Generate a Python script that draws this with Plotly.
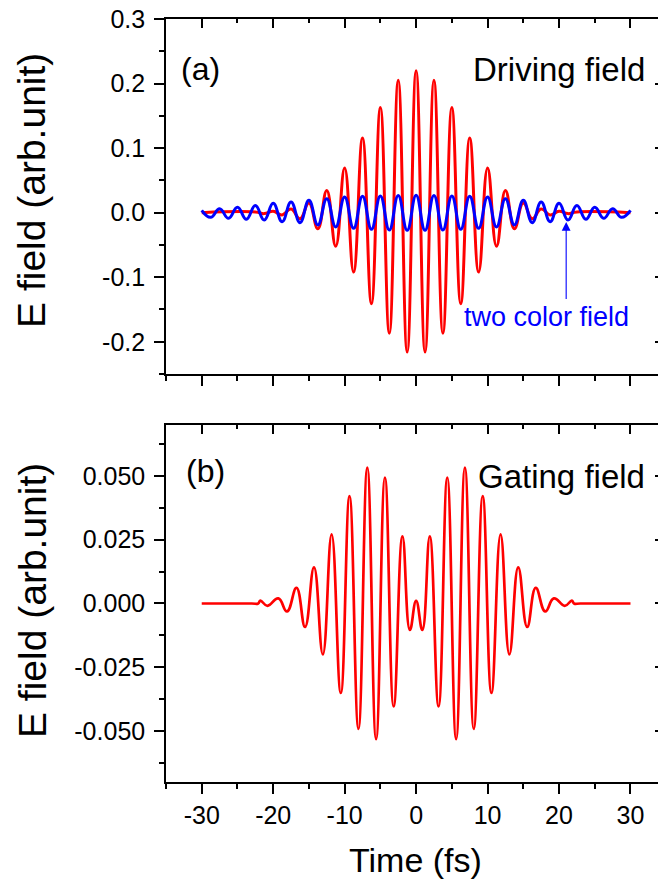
import plotly.graph_objects as go

# ---------------- data ----------------
# (a) driving field (red): extrema / end points
drive_t = [-30, -22.5, -21.25, -20, -18.75, -17.5, -16.25, -15, -13.75, -12.5, -11.25, -10, -8.75, -7.5,
           -6.25, -5, -3.75, -2.5, -1.25, 0, 1.25, 2.5, 3.75, 5, 6.25, 7.5, 8.75, 10,
           11.25, 12.5, 13.75, 15, 16.25, 17.5, 18.75, 20, 21.25, 22.5, 30]
drive_e = [0, 0.001, -0.0015, 0.002, -0.0035, 0.0055, -0.0095, 0.015, -0.025, 0.0345, -0.052, 0.069, -0.092, 0.1155,
           -0.141, 0.163, -0.187, 0.205, -0.216, 0.220, -0.216, 0.205, -0.187, 0.163, -0.141, 0.1155,
           -0.092, 0.069, -0.052, 0.0345, -0.025, 0.015, -0.0095, 0.0055, -0.0035, 0.002, -0.0015, 0.001, 0]

# (a) two color field (blue): extrema
two_t = [-30, -28.75, -27.5, -26.25, -25, -23.75, -22.5, -21.25, -20, -18.75, -17.5, -16.25,
         -15, -13.75, -12.5, -11.25, -10, -8.75, -7.5, -6.25, -5, -3.75, -2.5, -1.25, 0,
         1.25, 2.5, 3.75, 5, 6.25, 7.5, 8.75, 10, 11.25, 12.5, 13.75, 15, 16.25, 17.5,
         18.75, 20, 21.25, 22.5, 23.75, 25, 26.25, 27.5, 28.75, 30]
two_e = [0.0036, -0.0072, 0.006, -0.0088, 0.0085, -0.0103, 0.011, -0.0114, 0.0145, -0.014, 0.0165, -0.0155,
         0.0191, -0.019, 0.0217, -0.0222, 0.0243, -0.0243, 0.0255, -0.0258, 0.0258, -0.027, 0.0264, -0.0274, 0.0268,
         -0.0274, 0.0264, -0.027, 0.0258, -0.0258, 0.0255, -0.0243, 0.0243, -0.0222, 0.0217, -0.019, 0.0191, -0.0155, 0.0165,
         -0.014, 0.0145, -0.0114, 0.011, -0.0103, 0.0085, -0.0088, 0.006, -0.0072, 0.0036]

# (b) gating field (red): extrema / end points
gate_t = [-30, -23, -22.1, -21.8, -20.8, -19.28, -18.07, -16.74, -15.54, -14.29, -13.05, -11.82, -10.54,
          -9.32, -8.07, -6.83, -5.6, -4.36, -3.14, -1.91, -0.87, 0, 0.87, 1.91, 3.14, 4.36, 5.6,
          6.83, 8.07, 9.32, 10.54, 11.82, 13.05, 14.29, 15.54, 16.74, 18.07, 19.28, 20.8, 21.8, 22.1, 23, 30]
gate_e = [0, 0, 0, 0.0011, -0.0009, 0.002, -0.0031, 0.0061, -0.0092, 0.0142, -0.020, 0.0271, -0.0351,
          0.0421, -0.0492, 0.0533, -0.0532, 0.0494, -0.0404, 0.0263, -0.0104, 0.001, -0.0104, 0.0263, -0.0404, 0.0494, -0.0532,
          0.0533, -0.0492, 0.0421, -0.0351, 0.0271, -0.020, 0.0142, -0.0092, 0.0061, -0.0031, 0.002, -0.0009, 0.0011, 0, 0, 0]

x_ticks = [-30, -20, -10, 0, 10, 20, 30]
x_ticktext = ["-30", "-20", "-10", "0", "10", "20", "30"]
top_y_ticks = [0.3, 0.2, 0.1, 0.0, -0.1, -0.2]
top_y_ticktext = ["0.3", "0.2", "0.1", "0.0", "-0.1", "-0.2"]
top_y_minor = [0.25, 0.15, 0.05, -0.05, -0.15, -0.25]
bot_y_ticks = [0.05, 0.025, 0.0, -0.025, -0.05]
bot_y_ticktext = ["0.050", "0.025", "0.000", "-0.025", "-0.050"]
bot_y_minor = [0.0625, 0.0375, 0.0125, -0.0125, -0.0375, -0.0625]
x_minor = [-35, -25, -15, -5, 5, 15, 25]

# ---------------- figure ----------------
RED = "#ff0000"
BLUE = "#0000ff"
FONT = "Liberation Sans, Arial, sans-serif"

fig = go.Figure()
fig.add_trace(go.Scatter(x=drive_t, y=drive_e, xaxis="x2", yaxis="y2", mode="lines",
                         line=dict(color=RED, width=3.0, shape="spline", smoothing=1.3),
                         hoverinfo="skip", name="Driving field"))
fig.add_trace(go.Scatter(x=two_t, y=two_e, xaxis="x2", yaxis="y2", mode="lines",
                         line=dict(color=BLUE, width=3.0, shape="spline", smoothing=1.3),
                         hoverinfo="skip", name="two color field"))
fig.add_trace(go.Scatter(x=gate_t, y=gate_e, xaxis="x", yaxis="y", mode="lines",
                         line=dict(color=RED, width=2.7, shape="spline", smoothing=1.3),
                         hoverinfo="skip", name="Gating field"))
# empty traces so that the mirror axes (top / right ticks) are drawn
for xa, ya in [("x3", "y"), ("x", "y3"), ("x4", "y2"), ("x2", "y4")]:
    fig.add_trace(go.Scatter(x=[None], y=[None], xaxis=xa, yaxis=ya, mode="lines",
                             showlegend=False, hoverinfo="skip"))

XR = [-35, 33.85]
TICKFONT = dict(family=FONT, size=25, color="black")

def xax(**kw):
    d = dict(range=XR, tickmode="array", tickvals=x_ticks, ticktext=x_ticktext,
             showline=True, linecolor="black", linewidth=1.6, ticklen=10, tickwidth=1.6,
             tickcolor="black", showgrid=False, zeroline=False, tickfont=TICKFONT,
             minor=dict(tickmode="array", tickvals=x_minor, ticklen=5, tickwidth=1.6,
                        tickcolor="black", showgrid=False))
    d.update(kw)
    return d

def yax(rng, tv, tt, mv, **kw):
    d = dict(range=rng, tickmode="array", tickvals=tv, ticktext=tt,
             showline=True, linecolor="black", linewidth=1.6, ticklen=10, tickwidth=1.6,
             tickcolor="black", showgrid=False, zeroline=False, tickfont=TICKFONT,
             ticks="outside", ticklabelstandoff=4,
             minor=dict(tickmode="array", tickvals=mv, ticklen=5, tickwidth=1.6,
                        tickcolor="black", ticks="outside", showgrid=False))
    d.update(kw)
    return d

top_dom = [0.5347, 1.0]
bot_dom = [0.0, 0.4679]

fig.update_layout(
    width=658, height=884,
    margin=dict(l=166, r=0, t=19, b=102, autoexpand=False),
    paper_bgcolor="white", plot_bgcolor="white",
    showlegend=False,
    font=dict(family=FONT, color="black"),
    xaxis=xax(anchor="y", ticks="outside", showticklabels=True, minor_ticks="outside"),
    xaxis2=xax(anchor="y2", ticks="outside", showticklabels=False, minor_ticks="outside"),
    xaxis3=xax(anchor="y", overlaying="x", side="top", ticks="inside", ticklen=9,
               showticklabels=False, minor=dict(tickmode="array", tickvals=x_minor, ticklen=4.5,
                                                tickwidth=1.6, tickcolor="black", ticks="inside")),
    xaxis4=xax(anchor="y2", overlaying="x2", side="top", ticks="inside", ticklen=9,
               showticklabels=False, minor=dict(tickmode="array", tickvals=x_minor, ticklen=4.5,
                                                tickwidth=1.6, tickcolor="black", ticks="inside")),
    yaxis=yax([-0.07, 0.07], bot_y_ticks, bot_y_ticktext, bot_y_minor, domain=bot_dom, anchor="x"),
    yaxis2=yax([-0.25, 0.3], top_y_ticks, top_y_ticktext, top_y_minor, domain=top_dom, anchor="x2"),
    yaxis3=dict(range=[-0.07, 0.07], overlaying="y", side="right", anchor="x",
                tickmode="array", tickvals=bot_y_ticks, ticks="inside", ticklen=3, tickwidth=1.6,
                tickcolor="black", showticklabels=False, showline=False, showgrid=False, zeroline=False),
    yaxis4=dict(range=[-0.25, 0.3], overlaying="y2", side="right", anchor="x2",
                tickmode="array", tickvals=top_y_ticks, ticks="inside", ticklen=3, tickwidth=1.6,
                tickcolor="black", showticklabels=False, showline=False, showgrid=False, zeroline=False),
)

title_font = dict(family=FONT, size=39, color="black")
label_font = dict(family=FONT, size=33, color="black")
annotations = [
    # axis titles
    dict(text="E field (arb.unit)", xref="paper", yref="paper", x=-0.2724, y=0.7759,
         textangle=-90, showarrow=False, xanchor="center", yanchor="middle", font=title_font),
    dict(text="E field (arb.unit)", xref="paper", yref="paper", x=-0.2724, y=0.2385,
         textangle=-90, showarrow=False, xanchor="center", yanchor="middle", font=title_font),
    dict(text="Time (fs)", xref="paper", yref="paper", x=0.508, y=-0.1022,
         showarrow=False, xanchor="center", yanchor="middle",
         font=dict(family=FONT, size=34, color="black")),
    # panel labels
    dict(text="(a)", xref="x2", yref="y2", x=-33.2, y=0.2226, showarrow=False,
         xanchor="left", yanchor="middle", font=dict(family=FONT, size=32, color="black")),
    dict(text="Driving field", xref="x2", yref="y2", x=32.3, y=0.221, showarrow=False,
         xanchor="right", yanchor="middle", font=label_font),
    dict(text="(b)", xref="x", yref="y", x=-32.5, y=0.052, showarrow=False,
         xanchor="left", yanchor="middle", font=dict(family=FONT, size=32, color="black")),
    dict(text="Gating field", xref="x", yref="y", x=32.3, y=0.0497, showarrow=False,
         xanchor="right", yanchor="middle", font=label_font),
    # two color field label + arrow
    dict(text="two color field", xref="x2", yref="y2", x=18.25, y=-0.161, showarrow=False,
         xanchor="center", yanchor="middle", font=dict(family=FONT, size=27, color=BLUE)),
    dict(text="", xref="x2", yref="y2", x=21, y=-0.0145, ax=21, ay=-0.136,
         axref="x2", ayref="y2", showarrow=True, arrowhead=2, arrowsize=1.6,
         arrowwidth=1.1, arrowcolor=BLUE, standoff=0),
]
fig.update_layout(annotations=annotations)

fig.write_html("out.html")
